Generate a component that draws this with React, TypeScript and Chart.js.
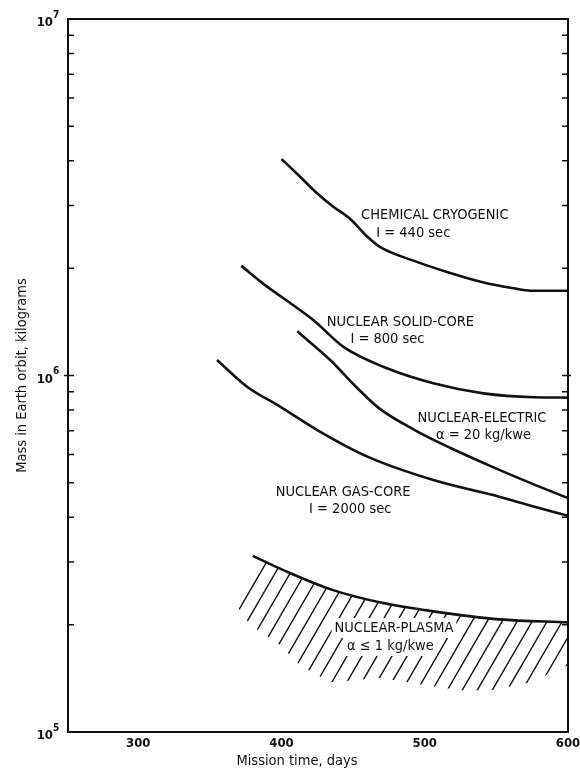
import React, { useEffect, useRef } from "react";
import { Chart, registerables } from "chart.js";

Chart.register(...registerables);

// ---- Data (mission time in days, mass in kg) ----
const chemDays = [400, 413, 425, 436, 447, 450, 460, 469, 492, 515, 539, 562, 574, 600];
const chemMass = [4.05e6, 3.61e6, 3.24e6, 2.98e6, 2.77e6, 2.7e6, 2.45e6, 2.29e6, 2.1e6, 1.955e6, 1.833e6, 1.756e6, 1.729e6, 1.729e6];

const solidDays = [372, 390, 408, 423, 443, 471, 506, 541, 576, 600];
const solidMass = [2.03e6, 1.775e6, 1.577e6, 1.422e6, 1.205e6, 1.058e6, 9.51e5, 8.91e5, 8.69e5, 8.67e5];

const elecDays = [411, 434, 452, 468, 493, 518, 546, 574, 600];
const elecMass = [1.33e6, 1.105e6, 9.3e5, 8.1e5, 7.03e5, 6.26e5, 5.57e5, 4.99e5, 4.53e5];

const gasDays = [355, 376, 399, 425, 460, 506, 552, 576, 600];
const gasMass = [1.105e6, 9.3e5, 8.18e5, 7.03e5, 5.92e5, 5.09e5, 4.57e5, 4.29e5, 4.04e5];

const plasmaDays = [380, 401, 436, 471, 506, 552, 600];
const plasmaMass = [3.12e5, 2.85e5, 2.5e5, 2.3e5, 2.18e5, 2.07e5, 2.03e5];

// hatched region below the plasma curve
const hatchTopDays = [363, 380, 401, 436, 471, 506, 552, 600];
const hatchTopMass = [2.67e5, 3.12e5, 2.85e5, 2.5e5, 2.3e5, 2.18e5, 2.07e5, 2.03e5];
const hatchBottomDays = [600, 574, 546, 525, 504, 469, 434, 413, 399, 378, 366, 363];
const hatchBottomMass = [1.54e5, 1.38e5, 1.31e5, 1.31e5, 1.346e5, 1.418e5, 1.38e5, 1.54e5, 1.754e5, 2.0e5, 2.35e5, 2.67e5];

const xTickValues = [300, 400, 500, 600];
const yDecadeExponents = [5, 6, 7];

const xTitle = "Mission time, days";
const yTitle = "Mass in Earth orbit, kilograms";

// curve annotations: text, anchor day, anchor mass
const annoText = [
  "CHEMICAL CRYOGENIC", "I = 440 sec",
  "NUCLEAR SOLID-CORE", "I = 800 sec",
  "NUCLEAR-ELECTRIC", "α = 20 kg/kwe",
  "NUCLEAR GAS-CORE", "I = 2000 sec",
  "NUCLEAR-PLASMA", "α ≤ 1 kg/kwe",
];
const annoDay = [507, 492, 483, 474, 540, 541, 443, 448, 478.5, 476];
const annoMass = [2.82e6, 2.51e6, 1.413e6, 1.266e6, 7.6e5, 6.81e5, 4.71e5, 4.22e5, 1.957e5, 1.743e5];

const FONT = "'DejaVu Sans Condensed', 'Liberation Sans Narrow', 'Roboto Condensed', 'DejaVu Sans', sans-serif";
const INK = "#111";

const toPts = (xs: number[], ys: number[]) => xs.map((x, i) => ({ x, y: ys[i] }));

const curve = (label: string, xs: number[], ys: number[]) => ({
  label,
  data: toPts(xs, ys),
  showLine: true,
  borderColor: INK,
  borderWidth: 2.6,
  pointRadius: 0,
  cubicInterpolationMode: "monotone" as const,
  fill: false,
});

const decorPlugin = {
  id: "decor",
  beforeDatasetsDraw(chart: any) {
    const { ctx, chartArea: a, scales } = chart;
    const xs = scales.x, ys = scales.y;
    // hatch region
    ctx.save();
    ctx.beginPath();
    hatchTopDays.forEach((d, i) => {
      const px = xs.getPixelForValue(d), py = ys.getPixelForValue(hatchTopMass[i]);
      if (i === 0) ctx.moveTo(px, py); else ctx.lineTo(px, py);
    });
    hatchBottomDays.forEach((d, i) => {
      ctx.lineTo(xs.getPixelForValue(d), ys.getPixelForValue(hatchBottomMass[i]));
    });
    ctx.closePath();
    ctx.clip();
    ctx.strokeStyle = INK;
    ctx.lineWidth = 1.4;
    const slope = 0.58;
    for (let bx = a.left + 100; bx < a.right + 120; bx += 15) {
      ctx.beginPath();
      ctx.moveTo(bx, a.bottom);
      ctx.lineTo(bx + slope * (a.bottom - a.top), a.top);
      ctx.stroke();
    }
    ctx.restore();
  },
  afterDatasetsDraw(chart: any) {
    const { ctx, chartArea: a, scales } = chart;
    const xs = scales.x, ys = scales.y;
    ctx.save();
    // frame
    ctx.strokeStyle = INK;
    ctx.lineWidth = 2;
    ctx.strokeRect(a.left, a.top, a.right - a.left, a.bottom - a.top);
    // minor/major y ticks on left and right, inside
    ctx.lineWidth = 1.5;
    for (let e = 5; e < 7; e++) {
      for (let m = 1; m <= 9; m++) {
        const v = m * Math.pow(10, e);
        const py = ys.getPixelForValue(v);
        const inLen = 6;
        ctx.beginPath();
        ctx.moveTo(a.left, py); ctx.lineTo(a.left + inLen, py);
        ctx.moveTo(a.right, py); ctx.lineTo(a.right - inLen, py);
        if (m === 1 && e === 6) {
          ctx.moveTo(a.left - 4, py); ctx.lineTo(a.left, py);
          ctx.moveTo(a.right, py); ctx.lineTo(a.right + 3, py);
        }
        ctx.stroke();
      }
    }
    // annotations
    ctx.fillStyle = INK;
    ctx.textAlign = "center";
    ctx.textBaseline = "middle";
    annoText.forEach((t, i) => {
      const px = xs.getPixelForValue(annoDay[i]);
      const py = ys.getPixelForValue(annoMass[i]);
      ctx.font = `14.5px ${FONT}`;
      if (i >= 8) {
        const w = ctx.measureText(t).width;
        ctx.fillStyle = "#fff";
        ctx.fillRect(px - w / 2 - 3, py - 10, w + 6, 20);
        ctx.fillStyle = INK;
      }
    });
    annoText.forEach((t, i) => {
      const px = xs.getPixelForValue(annoDay[i]);
      const py = ys.getPixelForValue(annoMass[i]);
      ctx.font = `14.5px ${FONT}`;
      ctx.fillText(t, px, py);
    });
    // x tick labels
    ctx.font = `bold 13px ${FONT}`;
    xTickValues.forEach((v) => {
      ctx.fillText(String(v), xs.getPixelForValue(v), a.bottom + 12);
    });
    // y decade labels 10^n
    yDecadeExponents.forEach((e) => {
      const py = ys.getPixelForValue(Math.pow(10, e)) + 4;
      ctx.font = `bold 13px ${FONT}`;
      ctx.textAlign = "right";
      ctx.fillText("10", a.left - 15, py);
      ctx.font = `bold 10px ${FONT}`;
      ctx.textAlign = "left";
      ctx.fillText(String(e), a.left - 15, py - 8);
    });
    // axis titles
    ctx.textAlign = "center";
    ctx.font = `14.5px ${FONT}`;
    ctx.fillText(xTitle, 297, a.bottom + 29);
    ctx.save();
    ctx.translate(22, (a.top + a.bottom) / 2);
    ctx.rotate(-Math.PI / 2);
    ctx.fillText(yTitle, 0, 0);
    ctx.restore();
    ctx.restore();
  },
};

export default function App() {
  const ref = useRef<HTMLCanvasElement | null>(null);
  useEffect(() => {
    document.body.style.margin = "0";
    const canvas = ref.current!;
    const chart = new Chart(canvas, {
      type: "scatter",
      data: {
        datasets: [
          curve("Chemical cryogenic", chemDays, chemMass),
          curve("Nuclear solid-core", solidDays, solidMass),
          curve("Nuclear-electric", elecDays, elecMass),
          curve("Nuclear gas-core", gasDays, gasMass),
          curve("Nuclear-plasma", plasmaDays, plasmaMass),
        ],
      },
      options: {
        animation: false,
        responsive: false,
        layout: { padding: { left: 68, top: 19, right: 12, bottom: 40 } },
        plugins: { legend: { display: false }, tooltip: { enabled: false } },
        scales: {
          x: { type: "linear", min: 251, max: 600, display: false },
          y: { type: "logarithmic", min: 1e5, max: 1e7, display: false },
        },
      },
      plugins: [decorPlugin],
    });
    return () => chart.destroy();
  }, []);
  return (
    <div style={{ width: 580, height: 772, background: "#fff" }}>
      <canvas ref={ref} width={580} height={772} style={{ display: "block" }} />
    </div>
  );
}
